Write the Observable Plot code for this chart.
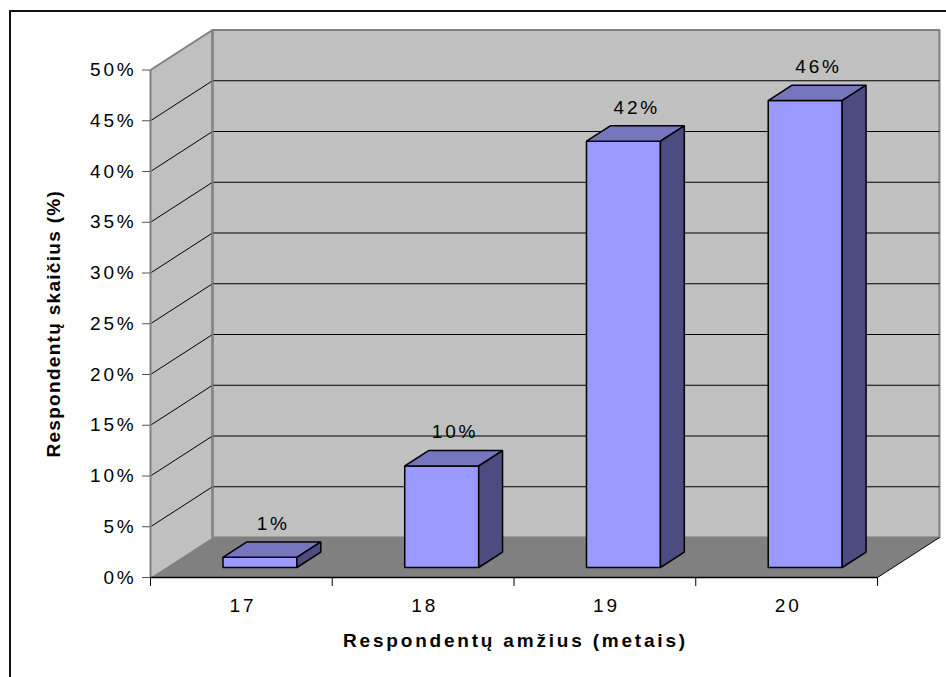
<!DOCTYPE html>
<html>
<head>
<meta charset="utf-8">
<script src="https://cdn.jsdelivr.net/npm/d3@7"></script>
<script src="https://cdn.jsdelivr.net/npm/@observablehq/plot@0.6"></script>
<style>
  html, body { margin: 0; padding: 0; background: #fff; overflow: hidden; }
  #chart { position: relative; width: 946px; height: 677px; }
  #chart svg { position: absolute; left: 0; top: 0; }
  #frame {
    position: absolute; left: 9px; top: 10px; width: 1000px; height: 1000px;
    border-left: 2px solid #111; border-top: 2px solid #111; pointer-events: none;
  }
</style>
</head>
<body>
<div id="chart"><div id="frame"></div></div>
<script>
// Respondents by age (share of all respondents, %)
const ages = ["17", "18", "19", "20"];
const shares = [1, 10, 42, 46];
const yTicks = [0, 5, 10, 15, 20, 25, 30, 35, 40, 45, 50];

const xTitle = "Respondentų amžius (metais)";
const yTitle = "Respondentų skaičius (%)";

// Oblique depth of the 3-D box, in data units (categories, percentage points)
const DX = 0.341, DY = 3.94;
// Bar footprint: centre offset and half-width within a category, depth span as a fraction of DX/DY
const BAR_C = 0.517, BAR_HW = 0.2035, F0 = 0.25, F1 = 0.635;

const n = ages.length;
const yTop = yTicks[yTicks.length - 1];

// Polygon faces as point lists
const pts = [];
function face(id, kind, corners) {
  corners.forEach(([x, y]) => pts.push({id, kind, x, y}));
}
face("left", "wall", [[0, 0], [0, yTop], [DX, yTop + DY], [DX, DY]]);
face("back", "back", [[DX, DY], [DX, yTop + DY], [n + DX, yTop + DY], [n + DX, DY]]);
face("floor", "floor", [[0, 0], [n, 0], [n + DX, DY], [DX, DY]]);

shares.forEach((v, i) => {
  const xl = i + BAR_C - BAR_HW, xr = i + BAR_C + BAR_HW;
  const ax = F0 * DX, ay = F0 * DY, bx = F1 * DX, by = F1 * DY;
  face(`front${i}`, "front", [[xl + ax, ay], [xr + ax, ay], [xr + ax, v + ay], [xl + ax, v + ay]]);
  face(`top${i}`, "top", [[xl + ax, v + ay], [xr + ax, v + ay], [xr + bx, v + by], [xl + bx, v + by]]);
  face(`side${i}`, "side", [[xr + ax, ay], [xr + bx, by], [xr + bx, v + by], [xr + ax, v + ay]]);
});

const poly = (kind, opts) =>
  Plot.line(pts.filter(d => d.kind === kind), {
    x: "x", y: "y", z: "id", curve: "linear-closed",
    strokeLinejoin: "miter", strokeLinecap: "butt", ...opts
  });

const grid = yTicks.filter(t => t > 0 && t < yTop);

const chart = Plot.plot({
  width: 946,
  height: 677,
  marginLeft: 150,
  marginRight: 69,
  marginTop: 69.5,
  marginBottom: 100,
  x: {type: "linear", domain: [0, n], axis: null},
  y: {type: "linear", domain: [0, yTop], axis: null},
  style: {
    fontFamily: "'Liberation Sans', Arial, sans-serif",
    fontSize: "19px",
    letterSpacing: "2.8px",
    color: "#000",
    background: "transparent"
  },
  marks: [
    // walls and floor
    poly("wall", {fill: "#C0C0C0", stroke: "none"}),
    poly("back", {fill: "#C0C0C0", stroke: "#808080", strokeWidth: 2}),
    poly("floor", {fill: "#808080", stroke: "none"}),
    // gridlines on the side wall (oblique) and the back wall (horizontal)
    Plot.link(grid, {x1: 0, y1: d => d, x2: DX, y2: d => d + DY, stroke: "#000", strokeWidth: 1}),
    Plot.link(grid, {x1: DX, y1: d => d + DY, x2: n + DX, y2: d => d + DY, stroke: "#000", strokeWidth: 1}),
    // wall edges
    Plot.link([yTop], {x1: 0, y1: 0, x2: 0, y2: d => d, stroke: "#808080", strokeWidth: 2}),
    Plot.link([yTop], {x1: 0, y1: d => d, x2: DX, y2: d => d + DY, stroke: "#808080", strokeWidth: 2}),
    Plot.link([yTop], {x1: DX, y1: DY, x2: DX, y2: d => d + DY, stroke: "#808080", strokeWidth: 2}),
    // floor front and right edges
    Plot.link([n], {x1: 0, y1: 0, x2: d => d, y2: 0, stroke: "#000", strokeWidth: 1.5}),
    Plot.link([n], {x1: d => d, y1: 0, x2: d => d + DX, y2: DY, stroke: "#000", strokeWidth: 1}),
    // bars
    poly("front", {fill: "#9999FF", stroke: "#000", strokeWidth: 1.5}),
    poly("top", {fill: "#7676BE", stroke: "#000", strokeWidth: 1.5}),
    poly("side", {fill: "#4C4C80", stroke: "#000", strokeWidth: 1.5}),
    // value labels
    Plot.text(shares, {
      x: (d, i) => i + BAR_C + 0.44 * DX,
      y: d => d + 0.44 * DY,
      text: d => `${d}%`,
      lineAnchor: "bottom",
      dy: -20,
      dx: 1.5,
      fontSize: 19,
      fill: "#000"
    }),
    // axes
    Plot.axisY({
      ticks: yTicks, tickFormat: d => `${d}%`, tickSize: 8, tickPadding: 6,
      stroke: "#555", fill: "#000", fontSize: 19, label: null
    }),
    Plot.axisX({
      ticks: d3.range(n + 1), tickFormat: () => "", tickSize: 9,
      stroke: "#000", label: null
    }),
    Plot.axisX({
      ticks: ages.map((_, i) => i + 0.5), tickFormat: d => ages[Math.floor(d)],
      tickSize: 0, tickPadding: 20.5, fill: "#000", fontSize: 19, dx: 1.5, label: null
    }),
    // axis titles
    Plot.text([xTitle], {
      frameAnchor: "bottom", textAnchor: "middle", lineAnchor: "bottom", dy: 69, dx: 1.5,
      fontWeight: "bold", fontSize: 19, fill: "#000"
    }),
    Plot.text([yTitle], {
      frameAnchor: "left", textAnchor: "middle", lineAnchor: "bottom", rotate: -90, dx: -91,
      fontWeight: "bold", fontSize: 19, fill: "#000"
    })
  ]
});

// the vertical title is set tighter than the rest of the text
d3.select(chart).selectAll("text")
  .filter(function () { return this.textContent === yTitle; })
  .style("letter-spacing", "1.3px");
document.getElementById("chart").prepend(chart);
</script>
</body>
</html>
